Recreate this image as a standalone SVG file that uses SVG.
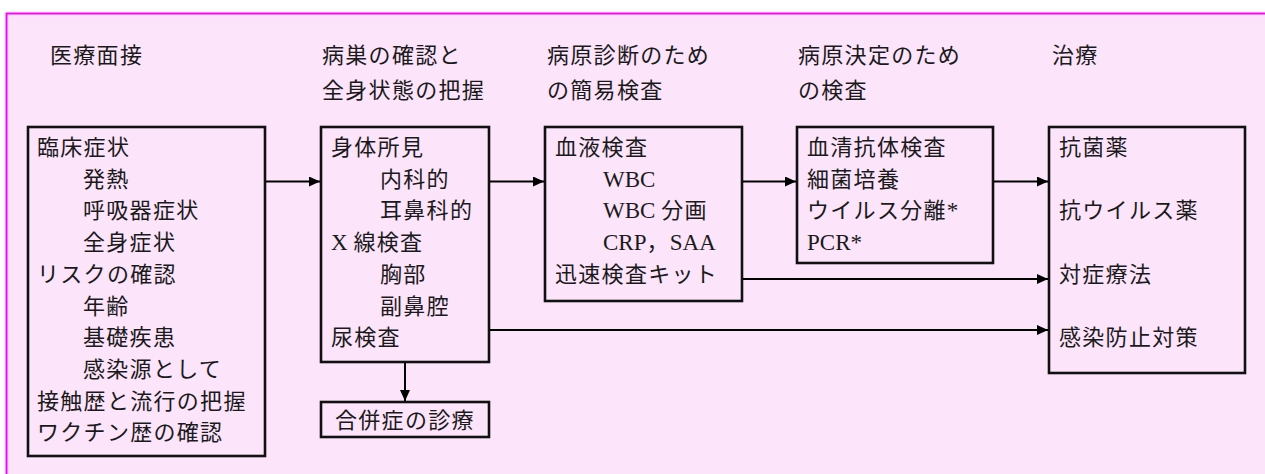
<svg xmlns="http://www.w3.org/2000/svg" width="1265" height="474" viewBox="0 0 1265 474">
<style>
.t{font-family:"Liberation Serif","Noto Sans CJK JP",serif;font-size:22px;fill:#1a1a1a;letter-spacing:1.3px}
.l{letter-spacing:0;font-size:23px}
.box{fill:none;stroke:#111;stroke-width:2.6}
.c{fill:none;stroke:#000;stroke-width:2;marker-end:url(#ah)}
</style>
<defs>
<marker id="ah" markerUnits="userSpaceOnUse" markerWidth="11" markerHeight="10" refX="11" refY="5" orient="auto">
<path d="M0,0 L11,5 L0,10 z" fill="#000"/>
</marker>
</defs>
<rect x="0" y="0" width="1265" height="474" fill="#fff"/>
<rect x="6.5" y="13.5" width="1270" height="470" fill="#fce4fb" stroke="#ff00ff" stroke-width="2"/>

<g id="headers" class="t">
<text x="50" y="63">医療面接</text>
<text x="322" y="63">病巣の確認と</text>
<text x="322" y="98">全身状態の把握</text>
<text x="547" y="63">病原診断のため</text>
<text x="547" y="98">の簡易検査</text>
<text x="798" y="63">病原決定のため</text>
<text x="798" y="98">の検査</text>
<text x="1052" y="63">治療</text>
</g>

<g id="interview">
<rect class="box" x="28" y="127" width="237" height="329"/>
<g class="t">
<text x="37" y="155">臨床症状</text>
<text x="83" y="186.7">発熱</text>
<text x="83" y="218.4">呼吸器症状</text>
<text x="83" y="250">全身症状</text>
<text x="37" y="281.8">リスクの確認</text>
<text x="83" y="313.5">年齢</text>
<text x="83" y="345">基礎疾患</text>
<text x="83" y="377">感染源として</text>
<text x="37" y="408.6">接触歴と流行の把握</text>
<text x="37" y="440.3">ワクチン歴の確認</text>
</g>
</g>

<g id="focus">
<rect class="box" x="321" y="127" width="168" height="235"/>
<g class="t">
<text x="331" y="155">身体所見</text>
<text x="380" y="186.7">内科的</text>
<text x="380" y="218.4">耳鼻科的</text>
<text x="331" y="250"><tspan class="l">X </tspan>線検査</text>
<text x="380" y="281.8">胸部</text>
<text x="380" y="313.5">副鼻腔</text>
<text x="331" y="345">尿検査</text>
</g>
</g>

<g id="complication">
<rect class="box" x="321" y="402" width="168" height="35"/>
<text class="t" x="335" y="428">合併症の診療</text>
</g>

<g id="simple-test">
<rect class="box" x="545" y="127" width="197" height="174"/>
<g class="t">
<text x="555" y="155">血液検査</text>
<text x="603" y="186.7"><tspan class="l">WBC</tspan></text>
<text x="603" y="218.4"><tspan class="l">WBC </tspan>分画</text>
<text x="603" y="250"><tspan class="l">CRP</tspan>，<tspan class="l">SAA</tspan></text>
<text x="555" y="281.8">迅速検査キット</text>
</g>
</g>

<g id="definitive-test">
<rect class="box" x="797" y="127" width="196" height="136"/>
<g class="t">
<text x="807" y="155">血清抗体検査</text>
<text x="807" y="186.7">細菌培養</text>
<text x="807" y="218.4">ウイルス分離<tspan class="l">*</tspan></text>
<text x="807" y="250"><tspan class="l">PCR*</tspan></text>
</g>
</g>

<g id="treatment">
<rect class="box" x="1049" y="127" width="196" height="246"/>
<g class="t">
<text x="1059" y="155">抗菌薬</text>
<text x="1059" y="218.4">抗ウイルス薬</text>
<text x="1059" y="281.8">対症療法</text>
<text x="1059" y="345">感染防止対策</text>
</g>
</g>

<g id="connectors">
<line class="c" x1="266" y1="181.5" x2="320" y2="181.5"/>
<line class="c" x1="490" y1="181.5" x2="544" y2="181.5"/>
<line class="c" x1="743" y1="181.5" x2="796" y2="181.5"/>
<line class="c" x1="994" y1="181.5" x2="1048" y2="181.5"/>
<line class="c" x1="743" y1="279" x2="1048" y2="279"/>
<line class="c" x1="490" y1="330" x2="1048" y2="330"/>
<line class="c" x1="405" y1="363" x2="405" y2="401"/>
</g>
</svg>
